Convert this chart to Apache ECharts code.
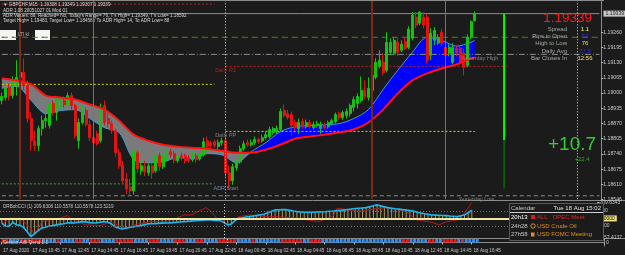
<!DOCTYPE html>
<html>
<head>
<meta charset="utf-8">
<title>GBPCHF M15</title>
<script src="https://cdn.jsdelivr.net/npm/echarts@6.0.0/dist/echarts.min.js"></script>
<style>
  html, body { margin: 0; padding: 0; background: #1b1b1b; }
  #chart { width: 625px; height: 255px; }
</style>
</head>
<body>
<div id="chart"></div>
<script>
// GBPCHF M15, first visible bar = 17 Aug 08:45 (server time)
const opens = [
  1.18968, 1.18981, 1.19024, 1.18989, 1.19037, 1.19067, 1.19088, 1.19032, 1.18891, 1.18796,
  1.18775, 1.18848, 1.18882, 1.18861, 1.18955, 1.18917, 1.18947, 1.18968, 1.18951, 1.18989,
  1.18947, 1.18796, 1.18874, 1.18925, 1.18865, 1.18809, 1.18826, 1.18796, 1.18947, 1.18891,
  1.18869, 1.18839, 1.18745, 1.18693, 1.18633, 1.18599, 1.18582, 1.18745, 1.18668, 1.18689,
  1.18659, 1.18689, 1.18668, 1.18732, 1.18685, 1.18724, 1.18749, 1.18741, 1.18711, 1.18732,
  1.18732, 1.18724, 1.18715, 1.18732, 1.18719, 1.18736, 1.18796, 1.18788, 1.18792, 1.18771,
  1.18788, 1.18796, 1.18659, 1.18625, 1.18681, 1.18706, 1.18762, 1.18788, 1.18779, 1.18788,
  1.18801, 1.18796, 1.18809, 1.18814, 1.18831, 1.18835, 1.18844, 1.18925, 1.18912, 1.18908,
  1.18874, 1.18848, 1.18878, 1.18856, 1.18874, 1.18852, 1.18861, 1.18848, 1.18865, 1.18856,
  1.18869, 1.18878, 1.18912, 1.18895, 1.18904, 1.18912, 1.18938, 1.18955, 1.18968, 1.19011,
  1.18981, 1.19011, 1.19067, 1.19114, 1.19131, 1.19097, 1.19174, 1.19170, 1.19217, 1.19183,
  1.19221, 1.19195, 1.19234, 1.19324, 1.19298, 1.19324, 1.19324, 1.19161, 1.19225, 1.19213,
  1.19260, 1.19195, 1.19170, 1.19131, 1.19191, 1.19191, 1.19170, 1.19118, 1.19238, 1.19308
];
const highs = [
  1.19002, 1.19054, 1.19041, 1.19071, 1.19140, 1.19161, 1.19148, 1.19054, 1.18917, 1.18839,
  1.18861, 1.18904, 1.18925, 1.18968, 1.18968, 1.18977, 1.18981, 1.18985, 1.19002, 1.19002,
  1.18955, 1.18891, 1.18947, 1.18934, 1.18882, 1.18822, 1.18839, 1.18955, 1.18968, 1.18917,
  1.18882, 1.18848, 1.18762, 1.18711, 1.18659, 1.18633, 1.18762, 1.18753, 1.18711, 1.18711,
  1.18702, 1.18702, 1.18753, 1.18745, 1.18741, 1.18762, 1.18762, 1.18753, 1.18745, 1.18745,
  1.18741, 1.18736, 1.18749, 1.18741, 1.18753, 1.18809, 1.18814, 1.18796, 1.18801, 1.18801,
  1.18809, 1.18805, 1.18689, 1.18698, 1.18719, 1.18775, 1.18796, 1.18801, 1.18801, 1.18814,
  1.18809, 1.18822, 1.18835, 1.18856, 1.18856, 1.18861, 1.18934, 1.18951, 1.18929, 1.18921,
  1.18886, 1.18891, 1.18891, 1.18886, 1.18886, 1.18878, 1.18882, 1.18878, 1.18874, 1.18882,
  1.18891, 1.18917, 1.18921, 1.18925, 1.18934, 1.18955, 1.18985, 1.18998, 1.19071, 1.19054,
  1.19067, 1.19088, 1.19148, 1.19183, 1.19170, 1.19260, 1.19234, 1.19238, 1.19234, 1.19225,
  1.19238, 1.19285, 1.19346, 1.19346, 1.19349, 1.19346, 1.19337, 1.19277, 1.19281, 1.19251,
  1.19273, 1.19208, 1.19208, 1.19213, 1.19204, 1.19204, 1.19191, 1.19251, 1.19310, 1.19349
];
const lows = [
  1.18951, 1.18968, 1.18968, 1.18977, 1.18989, 1.19020, 1.19011, 1.18874, 1.18753, 1.18753,
  1.18753, 1.18818, 1.18852, 1.18848, 1.18904, 1.18882, 1.18934, 1.18938, 1.18934, 1.18925,
  1.18805, 1.18762, 1.18865, 1.18856, 1.18796, 1.18771, 1.18775, 1.18788, 1.18861, 1.18852,
  1.18826, 1.18728, 1.18676, 1.18616, 1.18569, 1.18561, 1.18565, 1.18659, 1.18651, 1.18646,
  1.18646, 1.18633, 1.18659, 1.18668, 1.18676, 1.18711, 1.18724, 1.18698, 1.18702, 1.18711,
  1.18698, 1.18702, 1.18706, 1.18702, 1.18711, 1.18728, 1.18762, 1.18766, 1.18766, 1.18758,
  1.18775, 1.18642, 1.18592, 1.18608, 1.18668, 1.18698, 1.18753, 1.18771, 1.18771, 1.18779,
  1.18783, 1.18788, 1.18801, 1.18805, 1.18822, 1.18826, 1.18835, 1.18895, 1.18886, 1.18818,
  1.18839, 1.18826, 1.18848, 1.18848, 1.18848, 1.18844, 1.18852, 1.18826, 1.18844, 1.18848,
  1.18861, 1.18869, 1.18886, 1.18886, 1.18891, 1.18899, 1.18921, 1.18934, 1.18959, 1.18972,
  1.18968, 1.19002, 1.19058, 1.19105, 1.19075, 1.19088, 1.19161, 1.19161, 1.19157, 1.19174,
  1.19183, 1.19187, 1.19225, 1.19277, 1.19290, 1.19277, 1.19127, 1.19140, 1.19204, 1.19204,
  1.19200, 1.19148, 1.19157, 1.19122, 1.19157, 1.19122, 1.19075, 1.19110, 1.19230, 1.19307
];
const closes = [
  1.18985, 1.19024, 1.18989, 1.19045, 1.19067, 1.19088, 1.19032, 1.18891, 1.18796, 1.18775,
  1.18848, 1.18882, 1.18891, 1.18955, 1.18917, 1.18959, 1.18968, 1.18951, 1.18989, 1.18947,
  1.18818, 1.18874, 1.18934, 1.18865, 1.18809, 1.18788, 1.18783, 1.18925, 1.18874, 1.18869,
  1.18839, 1.18745, 1.18689, 1.18625, 1.18590, 1.18582, 1.18753, 1.18676, 1.18689, 1.18663,
  1.18689, 1.18659, 1.18732, 1.18685, 1.18724, 1.18749, 1.18736, 1.18711, 1.18728, 1.18724,
  1.18711, 1.18711, 1.18736, 1.18715, 1.18741, 1.18792, 1.18771, 1.18775, 1.18775, 1.18788,
  1.18796, 1.18659, 1.18625, 1.18685, 1.18702, 1.18762, 1.18783, 1.18779, 1.18788, 1.18801,
  1.18792, 1.18809, 1.18822, 1.18844, 1.18848, 1.18848, 1.18921, 1.18904, 1.18895, 1.18861,
  1.18852, 1.18874, 1.18856, 1.18874, 1.18856, 1.18865, 1.18869, 1.18865, 1.18852, 1.18874,
  1.18882, 1.18908, 1.18895, 1.18917, 1.18921, 1.18947, 1.18972, 1.18985, 1.19011, 1.18985,
  1.19020, 1.19075, 1.19131, 1.19140, 1.19088, 1.19217, 1.19217, 1.19225, 1.19174, 1.19208,
  1.19191, 1.19273, 1.19333, 1.19290, 1.19346, 1.19290, 1.19140, 1.19255, 1.19268, 1.19238,
  1.19213, 1.19161, 1.19195, 1.19195, 1.19170, 1.19131, 1.19110, 1.19238, 1.19305, 1.19339
];

// moving-average cloud, read every 4th bar
const maIdx = [0, 4, 8, 12, 16, 20, 24, 28, 32, 36, 40, 44, 48, 52, 56, 60, 64, 68, 72, 76,
  80, 84, 88, 92, 96, 100, 104, 108, 112, 116, 120, 124, 128, 129];
const slowMA = [1.19062, 1.19054, 1.19037, 1.18989, 1.18981, 1.18972, 1.18951, 1.18929, 1.18882, 1.18822,
  1.18796, 1.18779, 1.18771, 1.18766, 1.18762, 1.18753, 1.18745, 1.18745, 1.18758, 1.18779,
  1.18805, 1.18814, 1.18822, 1.18831, 1.18844, 1.18874, 1.18929, 1.18998, 1.19054, 1.19084,
  1.19105, 1.19122, 1.19148, 1.19152];
const fastMA = [1.19020, 1.19028, 1.18968, 1.18912, 1.18925, 1.18929, 1.18891, 1.18852, 1.18831, 1.18715,
  1.18702, 1.18706, 1.18724, 1.18719, 1.18741, 1.18736, 1.18702, 1.18749, 1.18788, 1.18835,
  1.18856, 1.18861, 1.18865, 1.18869, 1.18891, 1.18929, 1.19015, 1.19097, 1.19174, 1.19238,
  1.19225, 1.19200, 1.19217, 1.19225];

// DRBobCCI sub-window
const cciMain = [
  -63, -100, -105, -50, -85, -90, -120, -180, -240, -200,
  -160, -125, -115, -100, -95, -85, -75, -70, -60, -55,
  -60, -50, -42, -45, -55, -60, -58, -50, -45, -46,
  -70, -108, -125, -138, -130, -120, -112, -100, -95, -85,
  -72, -70, -68, -65, -62, -60, -58, -55, -50, -46,
  -42, -40, -35, -30, -28, -24, -20, -18, -22, -25,
  -29, -55, -85, -72, -30, 3, 10, 18, 24, 32,
  40, 48, 55, 75, 95, 112, 115, 116, 116, 108,
  98, 90, 86, 83, 81, 82, 84, 86, 88, 90,
  94, 98, 103, 108, 112, 118, 124, 130, 134, 138,
  142, 155, 168, 178, 165, 152, 142, 135, 128, 122,
  116, 112, 104, 96, 81, 72, 62, 55, 46, 44,
  41, 38, 37, 32, 28, 24, 35, 46, 75, 110.56
];
const cciFastIdx = [0, 2, 5, 8, 9, 11, 16, 18, 19, 23, 27, 30, 34, 37, 41, 45, 48, 50, 52, 56,
  57, 59, 61, 63, 65, 68, 72, 76, 81, 84, 87, 91, 92, 95, 98, 103, 106, 111, 114, 118,
  120, 122, 125, 127, 129];
const cciFast = [-85, 3, 3, -129, -217, -42, 3, 37, -7, -85, -94, -50, -129, -77, -42, -42, 3, 46, 46, 142,
  112, 3, -63, -85, 24, 46, 24, 24, 3, -20, -42, 37, 134, 112, 90, 134, 142, 90, -20, -50,
  -85, -42, -20, 68, 209.63];

// trend strip: 1 = red, 0 = blue
const trendStrip = [
  1, 1, 0, 0, 0, 1, 1, 1, 1, 1, 1, 0, 0, 0, 0, 1, 0, 0, 0, 0,
  1, 1, 0, 0, 1, 1, 1, 0, 0, 0, 0, 1, 1, 1, 1, 1, 0, 0, 0, 0,
  1, 1, 1, 0, 0, 0, 0, 1, 1, 1, 0, 0, 0, 1, 1, 0, 0, 0, 0, 1,
  1, 1, 1, 1, 0, 0, 0, 0, 1, 0, 0, 0, 0, 0, 0, 0, 1, 1, 1, 1,
  1, 1, 0, 0, 1, 1, 1, 0, 0, 0, 0, 0, 0, 0, 0, 0, 0, 0, 0, 0,
  0, 0, 0, 0, 0, 0, 0, 0, 0, 1, 1, 0, 0, 0, 0, 0, 1, 1, 0, 0,
  1, 1, 1, 1, 0, 1, 0, 0, 0, 0
];

// axis ticks
const priceTicks = [1.18546, 1.18610, 1.18675, 1.18740, 1.18805, 1.18870, 1.18935, 1.19000,
  1.19065, 1.19130, 1.19195, 1.19260];
const cciTicks = [209.6343, 100, -100, -257.4137];
const timeTickIdx = [0, 8, 16, 24, 32, 40, 48, 56, 64, 72, 80, 88, 96, 104, 112, 120, 128];
const timeTickText = ['17 Aug 2020', '17 Aug 10:45', '17 Aug 12:45', '17 Aug 14:45', '17 Aug 16:45',
  '17 Aug 18:45', '17 Aug 20:45', '17 Aug 22:45', '18 Aug 00:45', '18 Aug 02:45', '18 Aug 04:45',
  '18 Aug 06:45', '18 Aug 08:45', '18 Aug 10:45', '18 Aug 12:45', '18 Aug 14:45', '18 Aug 16:45'];

// levels
const lastPrice = 1.19339;
const dayOpen = 1.18799;
const todayLow = 1.18592;
const yesterdayHigh = 1.19165;
const yesterdayLow = 1.18561;
const dailyR1 = 1.19114;
const dailyPP = 1.18836;
const prevR1 = 1.19380;
const prevPP = 1.19037;
const adrStart = 1.18612;
const weeklyLevel = 1.19238;

const SLOTS = 164; // bars + empty shift area
const categories = [];
const t0 = Date.UTC(2020, 7, 17, 8, 45);
for (let i = 0; i < SLOTS; i++) {
  const d = new Date(t0 + i * 15 * 60000);
  const hh = String(d.getUTCHours()).padStart(2, '0');
  const mm = String(d.getUTCMinutes()).padStart(2, '0');
  categories.push(d.getUTCDate() + ' Aug ' + hh + ':' + mm);
}
const tickMap = {};
timeTickIdx.forEach((k, n) => { tickMap[k] = timeTickText[n]; });

const FONT = 'Liberation Sans, Arial, sans-serif';
const candles = opens.map((o, i) => [o, closes[i], lows[i], highs[i]]);
const maBase = maIdx.map((x, k) => [x, Math.min(slowMA[k], fastMA[k])]);
const maGrey = maIdx.map((x, k) => [x, Math.max(slowMA[k] - fastMA[k], 0)]);
const maBlue = maIdx.map((x, k) => [x, Math.max(fastMA[k] - slowMA[k], 0)]);

function hLine(price, from, to, color, type, width) {
  return {
    type: 'line', xAxisIndex: 0, yAxisIndex: 0, symbol: 'none', silent: true, z: 2,
    data: [[from, price], [to, price]],
    lineStyle: { color: color, type: type, width: width || 1 }
  };
}
function vLine(idx, color, type, width) {
  return { xAxis: idx, label: { show: false }, lineStyle: { color: color, type: type, width: width } };
}
function txt(x, y, text, color, size, align) {
  return { type: 'text', x: x, y: y, z: 11, style: { text: text, fill: color, font: size + 'px ' + FONT, align: align || 'left', verticalAlign: 'middle' } };
}

const chart = echarts.init(document.getElementById('chart'));

const option = {
  backgroundColor: '#1b1b1b',
  animation: false,
  textStyle: { fontFamily: FONT },
  grid: [
    { left: 0, right: 21, top: 1, height: 198.3 },
    { left: 0, right: 21, top: 202.5, height: 35.5 },
    { left: 0, right: 21, top: 239, height: 7 }
  ],
  xAxis: [
    { type: 'category', gridIndex: 0, data: categories, show: false },
    { type: 'category', gridIndex: 1, data: categories, show: false },
    {
      type: 'category', gridIndex: 2, data: categories,
      axisLine: { show: true, lineStyle: { color: '#8a8a8a' } },
      axisTick: { show: true, length: 2, interval: (i) => tickMap[i] !== undefined, lineStyle: { color: '#bbbbbb' } },
      axisLabel: {
        show: true, interval: (i) => tickMap[i] !== undefined,
        formatter: (v, i) => tickMap[i] || '', align: 'left',
        color: '#c8c8c8', fontSize: 4.6, margin: 2, fontFamily: FONT
      }
    }
  ],
  yAxis: [
    {
      type: 'value', gridIndex: 0, position: 'right', min: 1.18546, max: 1.19393,
      splitLine: { show: false },
      axisLine: { show: true, lineStyle: { color: '#8a8a8a' } },
      axisTick: { show: true, length: 2, customValues: priceTicks, lineStyle: { color: '#bbbbbb' } },
      axisLabel: { customValues: priceTicks, formatter: (v) => v.toFixed(5), color: '#c8c8c8', fontSize: 5.2, margin: 2, fontFamily: FONT }
    },
    {
      type: 'value', gridIndex: 1, position: 'right', min: -257.4137, max: 209.6343,
      splitLine: { show: false },
      axisLine: { show: true, lineStyle: { color: '#8a8a8a' } },
      axisTick: { show: true, length: 2, customValues: cciTicks, lineStyle: { color: '#bbbbbb' } },
      axisLabel: {
        customValues: cciTicks, color: '#c8c8c8', fontSize: 5, margin: 2, fontFamily: FONT,
        formatter: (v) => (Math.abs(v) === 100 ? String(v) : v.toFixed(4))
      }
    },
    {
      type: 'value', gridIndex: 2, position: 'right', min: -1, max: 1,
      splitLine: { show: false },
      axisLine: { show: true, lineStyle: { color: '#8a8a8a' } },
      axisTick: { show: false },
      axisLabel: { customValues: [0], formatter: '0', color: '#c8c8c8', fontSize: 5, margin: 2 }
    }
  ],
  series: [
    // MA cloud
    { type: 'line', stack: 'cloud', data: maBase, symbol: 'none', smooth: 0.3, lineStyle: { opacity: 0 }, silent: true, z: 1 },
    { type: 'line', stack: 'cloud', data: maGrey, symbol: 'none', smooth: 0.3, lineStyle: { opacity: 0 }, areaStyle: { color: '#7a7a7a', opacity: 1 }, silent: true, z: 1 },
    { type: 'line', stack: 'cloud', data: maBlue, symbol: 'none', smooth: 0.3, lineStyle: { opacity: 0 }, areaStyle: { color: '#0000ff', opacity: 1 }, silent: true, z: 1 },
    { type: 'line', data: maIdx.map((x, k) => [x, fastMA[k]]), symbol: 'none', smooth: 0.3, lineStyle: { color: '#3d9be0', width: 1 }, z: 2 },

    // horizontal levels
    hLine(lastPrice, 0, 163, '#8e8e8e', 'solid', 1),
    hLine(yesterdayHigh, 0, 163, '#8c8c8c', [6, 2, 1, 2], 1),
    hLine(yesterdayLow, 0, 163, '#8c8c8c', [4, 3], 1),
    hLine(weeklyLevel, 0, 163, '#1aa01a', [6, 4], 1),
    hLine(weeklyLevel, 0, 163, '#c81e1e', [2, 8], 1),
    hLine(dailyR1, 61, 138, '#c81e1e', [2, 2], 1),
    hLine(dailyPP, 61, 129, '#d4d400', [2, 2], 1),
    hLine(prevR1, 0, 58, '#c81e1e', [2, 2], 1),
    hLine(prevPP, 0, 58, '#d4d400', [2, 2], 1),
    hLine(adrStart, 0, 58, '#2ea82e', [2, 2], 1),

    // candles
    {
      type: 'candlestick', xAxisIndex: 0, yAxisIndex: 0, data: candles, barWidth: 2.6, z: 3,
      itemStyle: { color: '#12c312', color0: '#e01414', borderColor: '#12c312', borderColor0: '#e01414', borderWidth: 1 },
      markLine: {
        symbol: 'none', silent: true, animation: false,
        label: { show: false },
        data: [
          vLine(5, '#7a2a12', 'solid', 2),
          vLine(101, '#7a2a12', 'solid', 2),
          vLine(25, '#4d7ea6', 'solid', 1),
          vLine(121, '#4d7ea6', 'solid', 1),
          vLine(61, '#d8d8d8', [1, 2], 1),
          vLine(157, '#d8d8d8', [1, 2], 1)
        ]
      }
    },

    // slow MA drawn on top
    { type: 'line', data: maIdx.map((x, k) => [x, slowMA[k]]), symbol: 'none', smooth: 0.3, lineStyle: { color: '#ff1212', width: 2 }, z: 4 },

    // day range bar: open -> now bright, low -> open dark
    { type: 'line', data: [[137, dayOpen], [137, lastPrice]], symbol: 'none', lineStyle: { color: '#00ff00', width: 2 }, z: 4 },
    { type: 'line', data: [[137, todayLow], [137, dayOpen]], symbol: 'none', lineStyle: { color: '#0a8a0a', width: 1 }, z: 4 },

    // level captions and the bid box on the price scale
    {
      type: 'scatter', symbolSize: 0, silent: true, z: 5,
      label: { show: true, fontSize: 5.5, color: '#9a9a9a', fontFamily: FONT, formatter: (p) => p.data.name },
      data: [
        { name: 'Daily R1', value: [59, dailyR1], label: { position: [-3, 1], color: '#d42020' } },
        { name: 'Daily PP', value: [59, dailyPP], label: { position: [-3, 1] } },
        { name: 'ADR Start', value: [58, adrStart], label: { position: [-1, 2], color: '#8aa0b8' } },
        { name: 'Yesterday High', value: [125, yesterdayHigh], label: { position: [1, 1] } },
        { name: 'Yesterday Low', value: [124, yesterdayLow], label: { position: [2, 1] } },
        {
          name: lastPrice.toFixed(5), value: [163, lastPrice],
          label: { position: 'right', distance: 4, backgroundColor: '#efefef', color: '#000', fontSize: 5.2, padding: [1, 1, 0, 2] }
        }
      ]
    },

    // CCI window
    {
      type: 'bar', xAxisIndex: 1, yAxisIndex: 1, data: cciMain, barWidth: 1, silent: true,
      itemStyle: { color: '#a99d5e' }, z: 2,
      markLine: {
        symbol: 'none', silent: true, label: { show: false },
        data: [
          { yAxis: 100, lineStyle: { color: '#6e6e6e', type: [1, 2], width: 1 }, label: { show: false } },
          { yAxis: -100, lineStyle: { color: '#6e6e6e', type: [1, 2], width: 1 }, label: { show: false } },
          vLine(61, '#d8d8d8', [1, 2], 1),
          vLine(157, '#d8d8d8', [1, 2], 1),
          {
            yAxis: 0, lineStyle: { color: '#f3e7a6', type: 'solid', width: 2 },
            label: { show: true, position: 'end', formatter: '0.0000', distance: 0, backgroundColor: '#f3e37a', color: '#000', fontSize: 5, padding: [1, 2, 0, 2] }
          }
        ]
      }
    },
    { type: 'line', xAxisIndex: 1, yAxisIndex: 1, data: cciFastIdx.map((x, k) => [x, cciFast[k]]), symbol: 'none', lineStyle: { color: '#b41a1a', width: 1 }, z: 3 },
    { type: 'line', xAxisIndex: 1, yAxisIndex: 1, data: cciMain, symbol: 'none', lineStyle: { color: '#19b8f0', width: 1.6 }, z: 4 },

    // trend strip
    {
      type: 'bar', xAxisIndex: 2, yAxisIndex: 2, barWidth: 3, silent: true,
      data: trendStrip.map((s) => ({ value: 1, itemStyle: { color: s ? '#f01818' : '#2d8ef0' } })),
      markLine: { symbol: 'none', silent: true, label: { show: false }, data: [vLine(61, '#d8d8d8', [1, 2], 1)] }
    }
  ],
  graphic: [
    // header lines
    txt(3, 5, '\u25BC GBPCHF,M15  1.19308 1.19349 1.19307 1.19339', '#d6d6d6', 4.6),
    txt(3, 10.7, 'ADR 1.08 20051027 01 Mod 01', '#d6d6d6', 4.6),
    txt(3, 15.7, "ADR Values: 89, Reached= No, Today's Range= 76, T's High= 1.19349, T's Low= 1.18592", '#d6d6d6', 4.6),
    txt(3, 21, 'Target High= 1.19483, Target Low= 1.18458 / To ADR High= 14, To ADR Low= 88', '#d6d6d6', 4.6),
    { type: 'rect', shape: { x: 0, y: 30, width: 16, height: 10 }, style: { fill: '#f4f4f4' }, z: 1 },
    { type: 'rect', shape: { x: 35, y: 30, width: 15, height: 10 }, style: { fill: '#f4f4f4' }, z: 1 },
    txt(18, 35, 'LTI kl', '#bdbdbd', 4.6),

    // price panel on the right
    txt(592, 18.5, '1.19339', '#ff1a1a', 13.5, 'right'),
    txt(567, 29.3, 'Spread', '#a8a8a8', 6, 'right'),
    txt(567, 36.3, 'Pips to Open', '#a8a8a8', 6, 'right'),
    txt(567, 43.5, 'High to Low', '#a8a8a8', 6, 'right'),
    txt(567, 51, 'Daily Avg', '#a8a8a8', 6, 'right'),
    txt(567, 58.3, 'Bar Closes In', '#a8a8a8', 6, 'right'),
    txt(585, 29.3, '1.1', '#ffff30', 6, 'center'),
    txt(585, 36.3, '54', '#2a2aff', 6, 'center'),
    txt(585, 43.5, '76', '#ffd54a', 6, 'center'),
    txt(585, 51, '77.5', '#2a2aff', 6, 'center'),
    txt(585, 58.3, '12:56', '#ffe04a', 6, 'center'),
    txt(548, 145, '+10.7', '#33cc33', 19),
    txt(582, 159.5, '+22.4', '#2eaa2e', 6, 'center'),

    // sub-window captions
    txt(3, 207, 'DRBobCCI (1) 209.6308 110.5578 110.5578 123.5219', '#c8c8c8', 4.6),
    txt(3, 242.5, 'Sextion Aiffi Trend 1:1', '#d8d8d8', 4.6),

    // calendar box
    { type: 'rect', shape: { x: 509.5, y: 203.5, width: 94, height: 37 }, style: { fill: '#1b1b1b', stroke: '#5a5a5a', lineWidth: 1 }, z: 10 },
    { type: 'line', shape: { x1: 510, y1: 212.5, x2: 603, y2: 212.5 }, style: { stroke: '#cfcfcf', lineWidth: 1 }, z: 11 },
    txt(511, 208.5, 'Calendar', '#c8c8c8', 6),
    txt(601, 208.5, 'Tue 18 Aug 15:02', '#e0e0e0', 6, 'right'),
    txt(511, 217.5, '20h13', '#ffffff', 6),
    { type: 'rect', shape: { x: 531, y: 215, width: 4, height: 4 }, style: { fill: '#e01818' }, z: 11 },
    txt(537, 217.5, 'ALL   OPEC Meet', '#e82020', 6),
    txt(511, 226, '24h28', '#c8c8c8', 6),
    { type: 'circle', shape: { cx: 533, cy: 226, r: 2.2 }, style: { fill: 'none', stroke: '#e0901a', lineWidth: 1 }, z: 11 },
    txt(537, 226, 'USD Crude Oil', '#e0901a', 6),
    txt(511, 234.5, '27h58', '#c8c8c8', 6),
    { type: 'rect', shape: { x: 531, y: 232.5, width: 3.5, height: 4 }, style: { fill: '#e0901a' }, z: 11 },
    txt(537, 234.5, 'USD FOMC Meeting', '#e0901a', 6),

    // window separators
    { type: 'line', shape: { x1: 0, y1: 0.5, x2: 604, y2: 0.5 }, style: { stroke: '#8a8a8a', lineWidth: 1 } },
    { type: 'line', shape: { x1: 0, y1: 200.5, x2: 625, y2: 200.5 }, style: { stroke: '#8a8a8a', lineWidth: 1 } },
    { type: 'line', shape: { x1: 0, y1: 238.5, x2: 625, y2: 238.5 }, style: { stroke: '#8a8a8a', lineWidth: 1 } }
  ]
};

chart.setOption(option);
window.addEventListener('resize', () => chart.resize());
</script>
</body>
</html>
